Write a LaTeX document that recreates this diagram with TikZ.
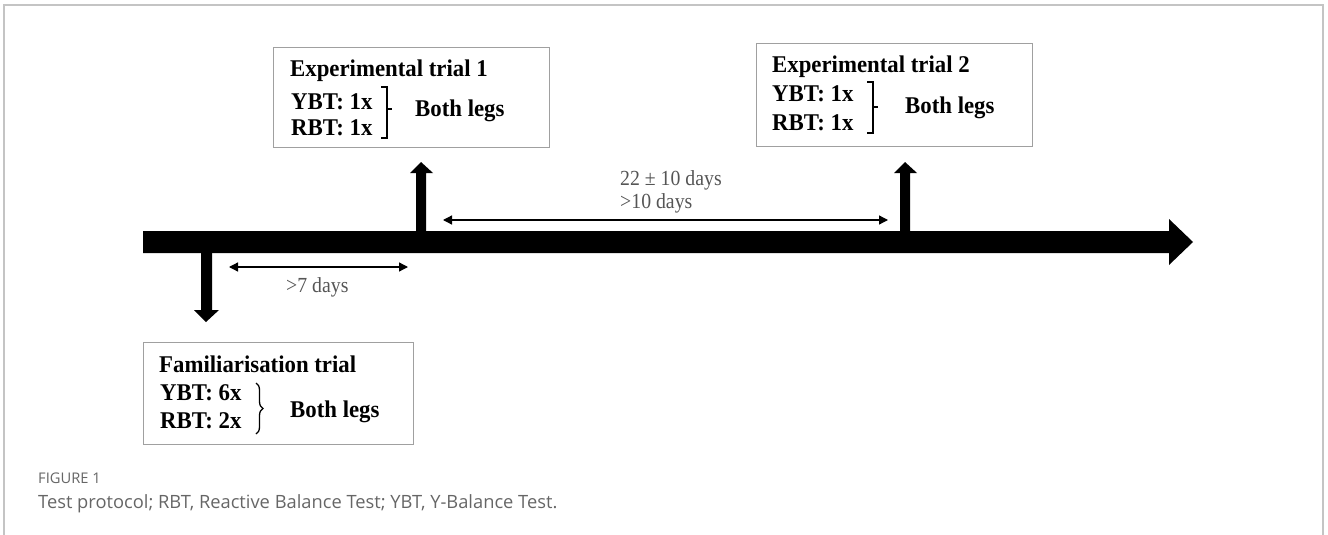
\documentclass[tikz,border=0pt]{standalone}
\usepackage{fontspec}
\setmainfont{Liberation Serif}
\newfontfamily\capfont{Open Sans}
\usetikzlibrary{arrows.meta,decorations.pathreplacing}
\definecolor{framegray}{HTML}{C4C4C4}
\definecolor{boxgray}{HTML}{A0A0A0}
\definecolor{labgray}{HTML}{555555}
\definecolor{capgray}{HTML}{666666}
\newcommand{\bxt}[1]{\scalebox{0.95}[1]{#1}}
\newcommand{\dyt}[1]{\scalebox{0.92}[1]{#1}}
\tikzset{
  boxtxt/.style={anchor=base west, inner sep=0pt, font=\fontsize{24}{26}\selectfont\bfseries},
  daytxt/.style={anchor=base west, inner sep=0pt, text=labgray, font=\fontsize{21.5}{23}\selectfont},
  trialbox/.style={draw=boxgray, line width=1.3pt, inner sep=0pt},
  thinarrow/.style={line width=1.3pt, {Triangle[length=9pt,width=9pt]}-{Triangle[length=9pt,width=9pt]}},
  bracketline/.style={line width=1.3pt},
}
\begin{document}
\begin{tikzpicture}[x=1pt,y=-1pt]
\useasboundingbox (0,0) rectangle (1328,535);
% outer frame (top, left, right)
\draw[framegray, line width=1.5pt] (4,535) -- (4,5) -- (1323,5) -- (1323,535);

% trial boxes
\node[trialbox, minimum width=276pt, minimum height=100pt, anchor=north west] (box1) at (273,47) {};
\node[trialbox, minimum width=276pt, minimum height=103pt, anchor=north west] (box2) at (756,43) {};
\node[trialbox, minimum width=270pt, minimum height=102pt, anchor=north west] (fam) at (143,342) {};

% box 1 text
\node[boxtxt] (t1) at (290,77) {\bxt{Experimental trial 1}};
\node[boxtxt] (y1) at (291,110) {\bxt{YBT: 1x}};
\node[boxtxt] (r1) at (291,135) {\bxt{RBT: 1x}};
\node[boxtxt] (b1) at (415,117) {\bxt{Both legs}};
\draw[bracketline] (381,87) -- (387,87) -- (387,138) -- (381,138) (387,109) -- (392,109);

% box 2 text
\node[boxtxt] (t2) at (772,73) {\bxt{Experimental trial 2}};
\node[boxtxt] (y2) at (772,102) {\bxt{YBT: 1x}};
\node[boxtxt] (r2) at (772,130) {\bxt{RBT: 1x}};
\node[boxtxt] (b2) at (905,113) {\bxt{Both legs}};
\draw[bracketline] (867,82) -- (873,82) -- (873,133) -- (867,133) (873,107) -- (878,107);

% familiarisation text
\node[boxtxt] (tf) at (159,372) {\bxt{Familiarisation trial}};
\node[boxtxt] (yf) at (160,400) {\bxt{YBT: 6x}};
\node[boxtxt] (rf) at (160,428) {\bxt{RBT: 2x}};
\node[boxtxt] (bf) at (290,417) {\bxt{Both legs}};
\draw[bracketline, decorate, decoration={brace, amplitude=7pt}] (256,383) -- (256,434);

% main timeline arrow
\fill (143,231) -- (1169,231) -- (1169,219) -- (1193,242) -- (1169,265) -- (1169,253) -- (143,253) -- cycle;
% up arrow 1
\fill (416,231) -- (416,173) -- (410,173) -- (421,162) -- (433,173) -- (426,173) -- (426,231) -- cycle;
% up arrow 2
\fill (900,231) -- (900,173) -- (894,173) -- (905,162) -- (917,173) -- (910,173) -- (910,231) -- cycle;
% down arrow
\fill (201,253) -- (201,310) -- (194,310) -- (206,322) -- (219,310) -- (212,310) -- (212,253) -- cycle;

% interval arrows
\coordinate (a1) at (229,267);
\coordinate (a2) at (408,267);
\draw[thinarrow] (a1) -- (a2);
\coordinate (c1) at (443,220);
\coordinate (c2) at (888,220);
\draw[thinarrow] (c1) -- (c2);

\node[daytxt] (d7) at (286,292) {\dyt{>7 days}};
\node[daytxt] (d22) at (620,185) {\dyt{22 ± 10 days}};
\node[daytxt] (d10) at (620,208) {\dyt{>10 days}};

% caption
\node[anchor=base west, inner sep=0pt, text=capgray, font=\capfont\fontsize{14.7}{16}\selectfont] (fig) at (38,483) {FIGURE 1};
\node[anchor=base west, inner sep=0pt, text=capgray, font=\capfont\fontsize{18.3}{20}\selectfont] (cap) at (38,508) {Test protocol; RBT, Reactive Balance Test; YBT, Y-Balance Test.};
\end{tikzpicture}
\end{document}
